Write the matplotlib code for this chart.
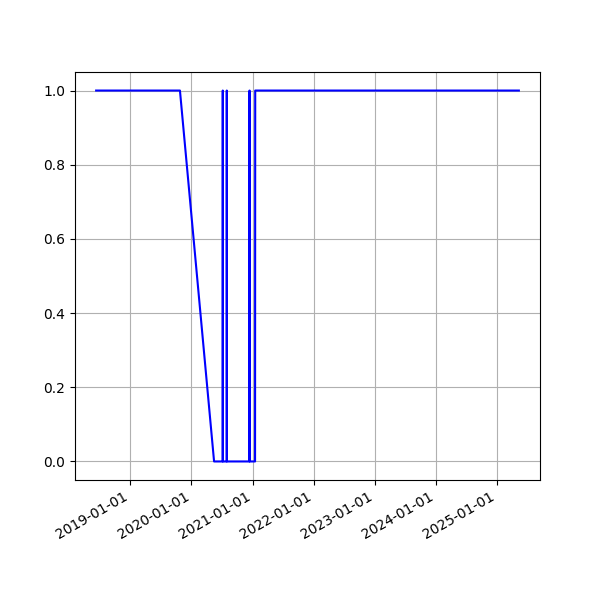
import matplotlib
matplotlib.use("Agg")
import matplotlib.pyplot as plt
import matplotlib.dates as mdates
import pandas as pd

dates = [
    "2018-06-11", "2019-10-25", "2020-05-16",
    "2020-07-06", "2020-07-07", "2020-07-08",
    "2020-07-30", "2020-07-31", "2020-08-01",
    "2020-12-13", "2020-12-14", "2020-12-15",
    "2021-01-16", "2021-01-17", "2025-05-12",
]
values = [1, 1, 0, 0, 1, 0, 0, 1, 0, 0, 1, 0, 0, 1, 1]

x = pd.to_datetime(dates)

fig, ax = plt.subplots(figsize=(6, 6), dpi=100)
ax.plot(x, values, color="blue")
ax.xaxis.set_major_locator(mdates.YearLocator())
ax.xaxis.set_major_formatter(mdates.DateFormatter("%Y-%m-%d"))
ax.grid(True)
fig.autofmt_xdate()
fig.savefig("out.png")
